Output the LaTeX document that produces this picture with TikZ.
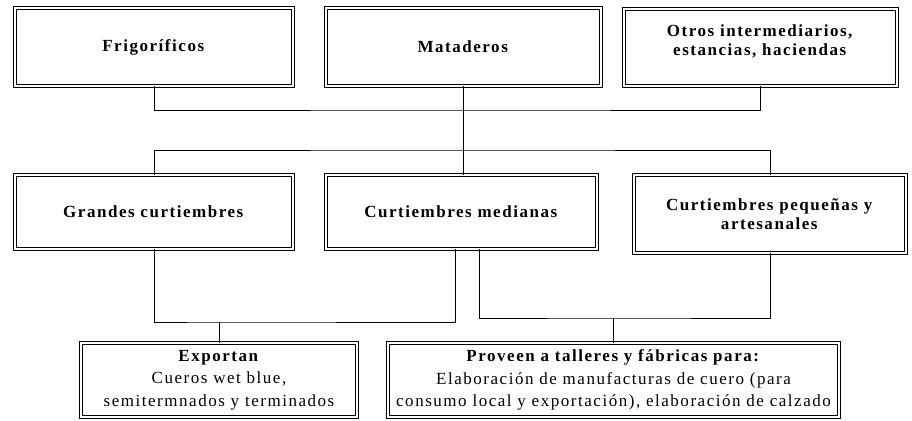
\documentclass[tikz,border=0pt]{standalone}
\usepackage{fontspec}
\setmainfont{Liberation Serif}[LetterSpace=9]
\begin{document}
\begin{tikzpicture}[x=1pt,y=-1pt,
  box/.style={draw, double, line width=0.75pt, double distance=1.8pt, align=center,
    inner sep=1pt, font=\fontsize{17}{19.5}\selectfont},
  txt/.style={align=center, inner sep=1pt, font=\fontsize{17}{19.5}\selectfont},
  conn/.style={line width=1pt}]
\useasboundingbox (0,0) rectangle (912,420);
\node[box, minimum width=278, minimum height=78] (F) at (154,47) {\textbf{Frigoríficos}};
\node[box, minimum width=275, minimum height=78] (M) at (463.5,47) {\textbf{Mataderos}};
\node[box, minimum width=273, minimum height=77] (O) at (760.5,47.5) {};
\node[txt] (Ot) at ([yshift=6]O.center) {\textbf{Otros intermediarios,}\\\textbf{estancias, haciendas}};
\node[box, minimum width=278, minimum height=74] (G) at (154,212) {\textbf{Grandes curtiembres}};
\node[box, minimum width=271, minimum height=74] (Med) at (461.5,212) {\textbf{Curtiembres medianas}};
\node[box, minimum width=272, minimum height=78] (P) at (770,214) {\textbf{Curtiembres pequeñas y}\\\textbf{artesanales}};
\node[box, minimum width=276, minimum height=74, font=\fontsize{17}{22.5}\selectfont] (E) at (219,380) {\textbf{Exportan}\\Cueros wet blue,\\semitermnados y terminados};
\node[box, minimum width=451, minimum height=74, font=\fontsize{17}{22.5}\selectfont] (Pr) at (613.5,380) {\textbf{Proveen a talleres y fábricas para:}\\Elaboración de manufacturas de cuero (para\\consumo local y exportación), elaboración de calzado};
\coordinate (j1) at (463.5,110);
\coordinate (j2) at (463.5,150);
\coordinate (j3) at (219,322);
\coordinate (j4) at (613.5,318);
\draw[conn] (F.south) |- (j1) -| (O.south);
\draw[conn] (M.south) -- (M.south |- Med.north);
\draw[conn] (G.north) |- (j2) -| (P.north);
\draw[conn] (G.south) |- (j3) -| ([xshift=-6]Med.south);
\draw[conn] (j3) -- (E.north);
\draw[conn] ([xshift=18]Med.south) |- (j4) -| (P.south);
\draw[conn] (j4) -- (Pr.north);
\end{tikzpicture}
\end{document}
